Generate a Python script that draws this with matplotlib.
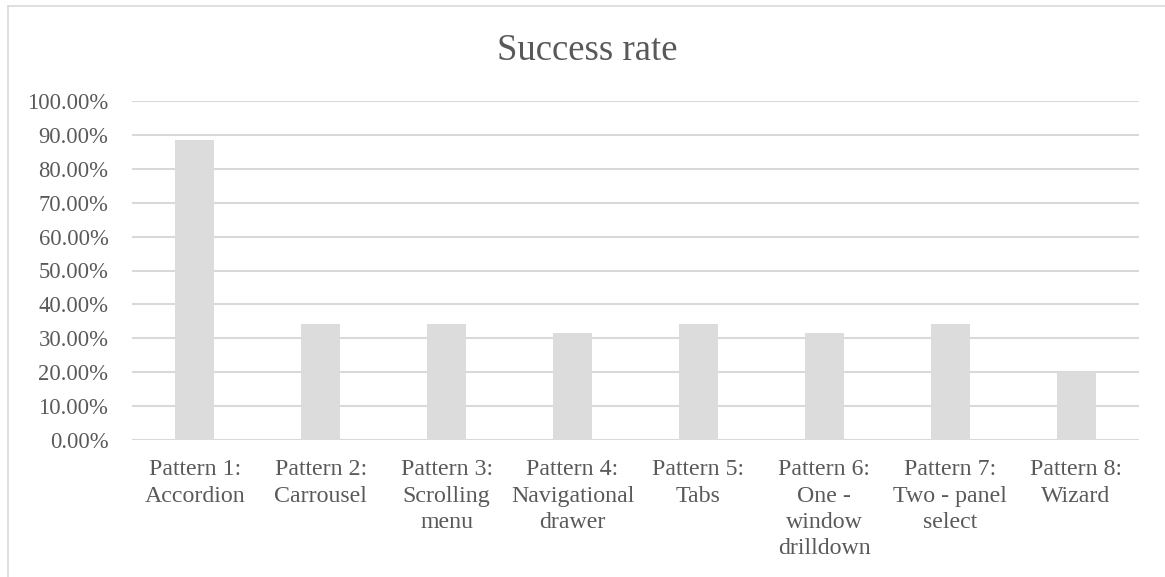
import matplotlib
matplotlib.use("Agg")
import matplotlib.pyplot as plt
from matplotlib.lines import Line2D
from matplotlib.ticker import PercentFormatter

# Success rate per navigation pattern (percent)
patterns = [
    "Pattern 1:\nAccordion",
    "Pattern 2:\nCarrousel",
    "Pattern 3:\nScrolling\nmenu",
    "Pattern 4:\nNavigational\ndrawer",
    "Pattern 5:\nTabs",
    "Pattern 6:\nOne -\nwindow\ndrilldown",
    "Pattern 7:\nTwo - panel\nselect",
    "Pattern 8:\nWizard",
]
success_rate = [88.57, 34.29, 34.29, 31.43, 34.29, 31.43, 34.29, 20.00]
y_ticks = [0, 10, 20, 30, 40, 50, 60, 70, 80, 90, 100]

TEXT = "#595959"
GRID = "#d9d9d9"
BAR = "#dcdcdc"
SERIF = ["Liberation Serif", "DejaVu Serif"]

W, H = 1165, 577
fig = plt.figure(figsize=(W / 100, H / 100), dpi=100)
fig.patch.set_facecolor("white")

# chart-area frame (left and top edges)
fig.add_artist(Line2D([8 / W, 8 / W], [0, 1 - 6 / H], transform=fig.transFigure,
                      color=GRID, lw=1.2))
fig.add_artist(Line2D([8 / W, 1], [1 - 6 / H, 1 - 6 / H], transform=fig.transFigure,
                      color=GRID, lw=1.2))

ax = fig.add_axes([132 / W, 137 / H, (1139 - 132) / W, 339 / H])
x = range(len(patterns))
ax.bar(x, success_rate, width=0.31, color=BAR, zorder=2)

ax.set_xlim(-0.5, len(patterns) - 0.5)
ax.set_ylim(0, 100)
ax.set_yticks(y_ticks)
ax.yaxis.set_major_formatter(PercentFormatter(decimals=2))
ax.grid(axis="y", color=GRID, lw=1.5, zorder=0)
ax.set_axisbelow(True)
for s in ax.spines.values():
    s.set_visible(False)

ax.set_xticks(list(x))
ax.set_xticklabels(patterns, fontfamily=SERIF, fontsize=17.2, color=TEXT,
                   linespacing=1.33)
ax.tick_params(axis="x", length=0, pad=14)
ax.tick_params(axis="y", length=0, pad=17, labelsize=16.3, labelcolor=TEXT)
for lbl in ax.get_yticklabels():
    lbl.set_fontfamily(SERIF)

fig.text(587 / W, 1 - 51 / H, "Success rate", ha="center", va="center",
         fontfamily=SERIF, fontsize=26.5, color=TEXT)

fig.savefig("out.png", dpi=100, facecolor="white")
